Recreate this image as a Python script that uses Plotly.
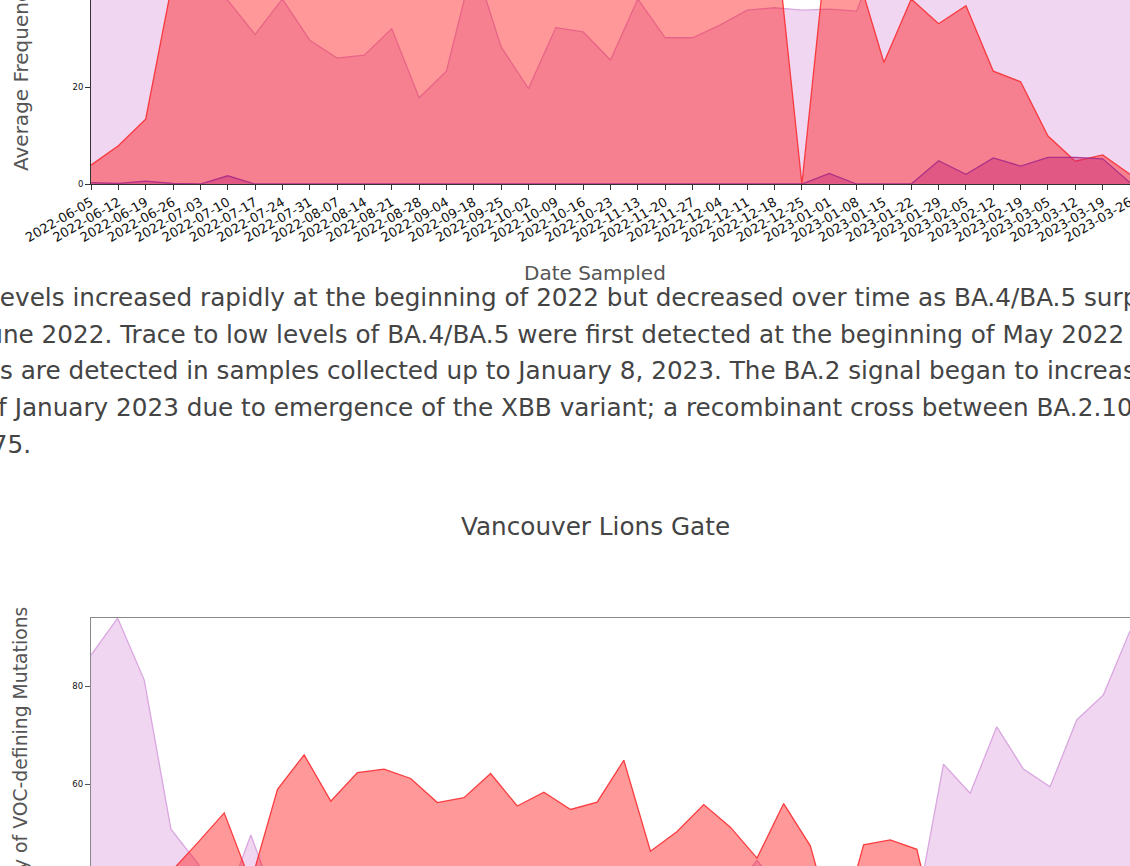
import plotly.graph_objects as go

# ---------------- data: top chart (cut off at top) ----------------
dates_top = [
    "2022-06-05", "2022-06-12", "2022-06-19", "2022-06-26", "2022-07-03", "2022-07-10",
    "2022-07-17", "2022-07-24", "2022-07-31", "2022-08-07", "2022-08-14", "2022-08-21",
    "2022-08-28", "2022-09-04", "2022-09-18", "2022-09-25", "2022-10-02", "2022-10-09",
    "2022-10-16", "2022-10-23", "2022-11-13", "2022-11-20", "2022-11-27", "2022-12-04",
    "2022-12-11", "2022-12-18", "2022-12-25", "2023-01-01", "2023-01-08", "2023-01-15",
    "2023-01-22", "2023-01-29", "2023-02-05", "2023-02-12", "2023-02-19", "2023-03-05",
    "2023-03-12", "2023-03-19", "2023-03-26",
]
ba2_top = [85, 88, 80, 60, 45, 38.0, 30.9, 38.2, 29.7, 26.0, 26.6, 32.1, 17.8, 23.3, 46,
           28.3, 19.7, 32.3, 31.4, 25.6, 38.2, 30.2, 30.2, 32.8, 35.9, 36.4, 35.9, 36.1,
           35.7, 50, 55, 62, 60, 70, 68, 75, 80, 85, 90]
ba45_top = [3.9, 7.9, 13.4, 42.4, 55, 60, 58, 62, 60, 58, 62, 60, 58, 62, 60, 58, 55, 60,
            58, 57, 60, 58, 57, 56, 55, 53.7, 0, 54, 44, 25.1, 38.2, 33.1, 36.8, 23.3,
            21.1, 9.9, 4.7, 6.0, 2.0]
other_top = [0.3, 0.1, 0.6, 0.1, 0, 1.7, 0, 0, 0, 0, 0, 0, 0, 0, 0, 0, 0, 0, 0, 0, 0, 0,
             0, 0, 0, 0, 0, 2.2, 0, 0, 0, 4.8, 2.0, 5.4, 3.7, 5.5, 5.5, 5.2, 0.3]

# ---------------- data: Vancouver Lions Gate (cut off at bottom) ----------------
dates_lg = [
    "2022-06-05", "2022-06-12", "2022-06-19", "2022-06-26", "2022-07-03", "2022-07-10",
    "2022-07-17", "2022-07-24", "2022-07-31", "2022-08-07", "2022-08-14", "2022-08-21",
    "2022-08-28", "2022-09-04", "2022-09-11", "2022-09-18", "2022-09-25", "2022-10-02",
    "2022-10-09", "2022-10-16", "2022-10-23", "2022-11-13", "2022-11-20", "2022-11-27",
    "2022-12-04", "2022-12-11", "2022-12-18", "2022-12-25", "2023-01-01", "2023-01-08",
    "2023-01-15", "2023-01-22", "2023-01-29", "2023-02-05", "2023-02-12", "2023-02-19",
    "2023-03-05", "2023-03-12", "2023-03-19", "2023-03-26",
]
ba2_lg = [86.3, 93.8, 81.2, 50.9, 44.0, 35, 49.7, 35, 30, 28, 25, 22, 22, 20, 22, 20, 22,
          20, 24, 22, 25, 30, 32, 35, 38, 44.5, 38, 40, 42, 40, 38, 34.9, 64.1, 58.2,
          71.7, 63.1, 59.5, 73.1, 78.2, 91.2]
ba45_lg = [20, 26, 33, 42.2, 48.1, 54.2, 40, 59.0, 66.0, 56.6, 62.4, 63.1, 61.2, 56.3,
           57.3, 62.2, 55.6, 58.4, 54.9, 56.4, 64.9, 46.4, 50.4, 55.9, 51.3, 45.0, 56.1,
           47.5, 28, 47.7, 48.7, 46.8, 24, 15, 12, 10, 8, 6, 5, 3]

para_lines = [
    "levels increased rapidly at the beginning of 2022 but decreased over time as BA.4/BA.5 surpassed it in",
    "June 2022. Trace to low levels of BA.4/BA.5 were first detected at the beginning of May 2022 and",
    "s are detected in samples collected up to January 8, 2023. The BA.2 signal began to increase at the end",
    "of January 2023 due to emergence of the XBB variant; a recombinant cross between BA.2.10.1 and",
    "BA.2.75.",
]
para_x_px = [-7.8, -22.6, -1.0, -18.0, -74.0]
para_base_px = [305.7, 342.7, 379.3, 416.0, 452.7]

W, H = 1130, 866
FONT = "DejaVu Sans"
PARA_SIZE = 24.7
YLAB = "Average Frequency of VOC-defining Mutations"


def px(x):
    return x / W


def py(y):
    return 1 - y / H


LAV_FILL = "rgba(221,160,221,0.43)"
LAV_LINE = "rgba(214,160,222,0.9)"
RED_FILL = "rgba(255,0,0,0.4)"
RED_LINE = "rgba(250,45,50,0.9)"
DARK_FILL = "rgba(200,40,120,0.45)"
DARK_LINE = "rgba(165,40,135,0.85)"

fig = go.Figure()

for yv, fc, lc, nm in [(ba2_top, LAV_FILL, LAV_LINE, "BA.2"),
                       (ba45_top, RED_FILL, RED_LINE, "BA.4/BA.5"),
                       (other_top, DARK_FILL, DARK_LINE, "Other")]:
    fig.add_trace(go.Scatter(x=dates_top, y=yv, mode="lines", fill="tozeroy",
                             fillcolor=fc, line=dict(color=lc, width=1.3),
                             name=nm, showlegend=False, xaxis="x", yaxis="y"))

for yv, fc, lc, nm in [(ba2_lg, LAV_FILL, LAV_LINE, "BA.2"),
                       (ba45_lg, RED_FILL, RED_LINE, "BA.4/BA.5")]:
    fig.add_trace(go.Scatter(x=dates_lg, y=yv, mode="lines", fill="tozeroy",
                             fillcolor=fc, line=dict(color=lc, width=1.3),
                             name=nm, showlegend=False, xaxis="x2", yaxis="y2"))

xdom = [px(91), 1]

fig.update_layout(
    width=W, height=H, autosize=False,
    margin=dict(l=0, r=0, t=0, b=0, pad=0),
    paper_bgcolor="white", plot_bgcolor="white",
    font=dict(family=FONT),
    xaxis=dict(domain=xdom, anchor="y", type="category", range=[0, len(dates_top) - 1],
               tickmode="array", tickvals=dates_top, ticktext=dates_top, tickangle=-30,
               tickfont=dict(family=FONT, size=13, color="#111"),
               ticks="outside", ticklen=5, tickwidth=1, tickcolor="#333",
               showline=True, linecolor="#333", linewidth=1,
               showgrid=False, zeroline=False, automargin=False),
    yaxis=dict(domain=[py(184), 1], anchor="x", range=[0, 38.0],
               tickmode="array", tickvals=[0, 20],
               tickfont=dict(family=FONT, size=8.5, color="#111"),
               ticks="outside", ticklen=5, tickwidth=1, tickcolor="#333",
               showline=True, linecolor="#333", linewidth=1,
               showgrid=False, zeroline=False, automargin=False),
    xaxis2=dict(domain=xdom, anchor="y2", type="category", range=[0, len(dates_lg) - 1],
                side="top", showticklabels=False, ticks="",
                showline=True, linecolor="#888", linewidth=1.2,
                showgrid=False, zeroline=False, automargin=False),
    yaxis2=dict(domain=[0, py(618)], anchor="x2", range=[43.4, 93.83],
                tickmode="array", tickvals=[60, 80],
                tickfont=dict(family=FONT, size=8.5, color="#111"),
                ticks="outside", ticklen=5, tickwidth=1, tickcolor="#555",
                showline=True, linecolor="#888", linewidth=1.2,
                showgrid=False, zeroline=False, automargin=False),
)

ann = []
ann.append(dict(text="Date Sampled", x=px(595), y=py(272.5), xref="paper", yref="paper",
                xanchor="center", yanchor="middle", showarrow=False, borderpad=0,
                font=dict(family=FONT, size=20, color="#555")))
ann.append(dict(text=YLAB, x=px(20.5), y=py(172.5),
                xref="paper", yref="paper", xanchor="center", yanchor="bottom",
                textangle=-90, showarrow=False, borderpad=0,
                font=dict(family=FONT, size=20, color="#555")))
for t, xp, bp in zip(para_lines, para_x_px, para_base_px):
    ann.append(dict(text=t, x=px(xp), y=py(bp - 8.5), xref="paper", yref="paper",
                    xanchor="left", yanchor="middle", showarrow=False, borderpad=0,
                    font=dict(family=FONT, size=PARA_SIZE, color="#444")))
ann.append(dict(text="Vancouver Lions Gate", x=px(595), y=py(526.5), xref="paper", yref="paper",
                xanchor="center", yanchor="middle", showarrow=False, borderpad=0,
                font=dict(family=FONT, size=PARA_SIZE, color="#444")))
ann.append(dict(text=YLAB, x=px(20.5), y=py(1040.5),
                xref="paper", yref="paper", xanchor="center", yanchor="bottom",
                textangle=-90, showarrow=False, borderpad=0,
                font=dict(family=FONT, size=18.8, color="#555")))

fig.update_layout(annotations=ann)

fig.write_html(
    "out.html",
    config={"displayModeBar": False},
    post_script="document.body.style.margin='0';document.body.style.padding='0';"
                "document.body.style.overflow='hidden';",
)
